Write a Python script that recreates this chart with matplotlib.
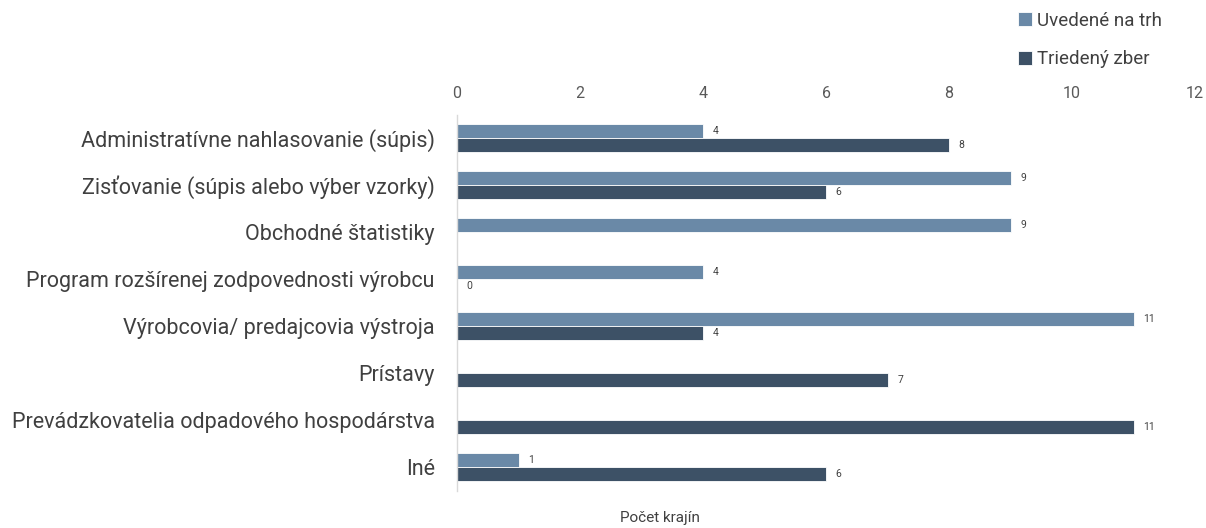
import matplotlib
matplotlib.use("Agg")
import matplotlib.pyplot as plt
import numpy as np

categories = [
    "Administratívne nahlasovanie (súpis)",
    "Zisťovanie (súpis alebo výber vzorky)",
    "Obchodné štatistiky",
    "Program rozšírenej zodpovednosti výrobcu",
    "Výrobcovia/ predajcovia výstroja",
    "Prístavy",
    "Prevádzkovatelia odpadového hospodárstva",
    "Iné",
]
uvedene = [4, 9, 9, 4, 11, None, None, 1]
triedeny = [8, 6, None, 0, 4, 7, 11, 6]
series_names = ["Uvedené na trh", "Triedený zber"]
xticks = [0, 2, 4, 6, 8, 10, 12]
xlabel = "Počet krajín"

c_light = "#6A89A7"
c_dark = "#3D5166"

plt.rcParams['font.family'] = ['Roboto', 'DejaVu Sans']

fig = plt.figure(figsize=(12.06, 5.28), dpi=100)
ax = fig.add_axes([0.379, 0.071, 0.612, 0.712])

y = np.arange(len(categories))
h = 0.3

def vals(lst):
    return [np.nan if v is None else v for v in lst]

b1 = ax.barh(y - h/2, vals(uvedene), height=h, color=c_light, label=series_names[0],
             edgecolor="white", linewidth=0.6)
b2 = ax.barh(y + h/2, vals(triedeny), height=h, color=c_dark, label=series_names[1],
             edgecolor="white", linewidth=0.6)

for bars, data in ((b1, uvedene), (b2, triedeny)):
    labels = ["" if v is None else str(v) for v in data]
    ax.bar_label(bars, labels=labels, padding=7, fontsize=7.5, color="#404040")

ax.set_ylim(len(categories) - 0.5, -0.5)
ax.set_xlim(0, 12)
ax.set_yticks(y)
ax.set_yticklabels(categories, fontsize=15.5, color="#404040")
ax.set_xticks(xticks)
ax.set_xticklabels([str(t) for t in xticks], fontsize=11.5, color="#595959")
ax.xaxis.tick_top()
ax.tick_params(axis="both", length=0)
ax.tick_params(axis="x", pad=10)
ax.tick_params(axis="y", pad=16)

for s in ("top", "right", "bottom"):
    ax.spines[s].set_visible(False)
ax.spines["left"].set_color("#D9D9D9")
ax.spines["left"].set_linewidth(1.0)

fig.text(0.547, 0.006, xlabel, fontsize=11, color="#404040", ha="center", va="bottom")

fig.legend(handles=[b1, b2], labels=series_names, loc="upper left",
           bbox_to_anchor=(0.83, 1.01), frameon=False, fontsize=13.5,
           handlelength=0.75, handleheight=0.75, handletextpad=0.25,
           labelspacing=1.1, labelcolor="#404040")

fig.savefig("out.png", dpi=100)
